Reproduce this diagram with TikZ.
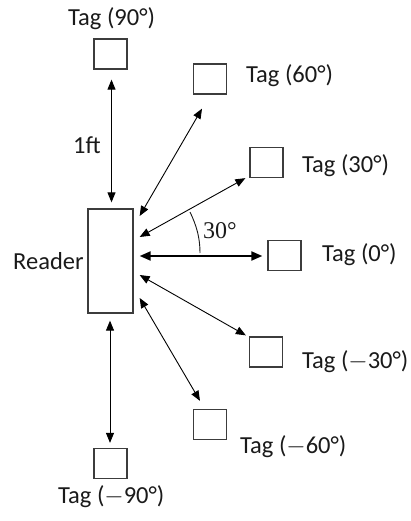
\documentclass[tikz,border=0pt]{standalone}
\usepackage{fontspec}
\setmainfont{Carlito}
\newfontfamily\serifnum{Liberation Serif}
\usetikzlibrary{arrows.meta,calc}
\definecolor{boxgray}{HTML}{3C3C3C}
\definecolor{txt}{HTML}{1A1A1A}
\newcommand{\mymin}{\ensuremath{-}}
\tikzset{
  tagbox/.style={draw=boxgray,line width=1.3pt,minimum width=33pt,minimum height=30pt,inner sep=0pt},
  readerbox/.style={draw=boxgray,line width=1.3pt,minimum width=45pt,minimum height=104pt,inner sep=0pt},
  lbl/.style={anchor=base west,inner sep=0pt,text=txt,font=\fontsize{24.5}{28}\selectfont},
  thinarr/.style={line width=0.9pt,{Triangle[length=10pt,width=8pt]}-{Triangle[length=10pt,width=8pt]}},
  thickarr/.style={line width=2pt,{Triangle[length=11pt,width=9pt]}-{Triangle[length=11pt,width=9pt]}},
}
\begin{document}
\begin{tikzpicture}[x=1pt,y=-1pt]
\useasboundingbox (0,0) rectangle (410,521);
% boxes
\node[readerbox] (reader) at (110.5,261) {};
\node[tagbox] (t90) at (110.5,54) {};
\node[tagbox] (t60) at (210,79) {};
\node[tagbox] (t30) at (266.5,162.5) {};
\node[tagbox] (t0) at (284.5,255.5) {};
\node[tagbox] (tm30) at (266,352) {};
\node[tagbox] (tm60) at (210,424.5) {};
\node[tagbox] (tm90) at (110.5,463.5) {};
% labels
\node[lbl] (l90) at (68,26) {Tag (90°)};
\node[lbl] (l60) at (246,83) {Tag (60°)};
\node[lbl] (l30) at (302,173) {Tag (30°)};
\node[lbl] (l0) at (322,261) {Tag (0°)};
\node[lbl] (lm30) at (302,368) {Tag (\mymin30°)};
\node[lbl] (lm60) at (240,453) {Tag (\mymin60°)};
\node[lbl] (lm90) at (58,503) {Tag (\mymin90°)};
\node[lbl] (lreader) at (13,269) {Reader};
\node[lbl] (lft) at (73,154) {1ft};
\node[lbl,font=\serifnum\fontsize{24}{28}\selectfont] (lang) at (203,238) {30°};
% arrows
\draw[thinarr] ($(t90.south)+(1,10)$) -- ($(reader.north)+(1,-6)$);
\draw[thinarr] ($(t60.south)+(-8,14)$) -- ($(reader.east)+(6,-45)$);
\draw[thinarr] ($(t30.south west)+(-4,0)$) -- ($(reader.east)+(6,-24)$);
\draw[thickarr] ($(reader.east)+(6,-5)$) -- ($(t0.west)+(-5,0.5)$);
\draw[thinarr] ($(reader.east)+(6,14)$) -- ($(tm30.north west)+(-3,-1)$);
\draw[thinarr] ($(reader.east)+(6,37)$) -- ($(tm60.north)+(-10,-8)$);
\draw[thinarr] ($(reader.south)+(-0.5,7)$) -- ($(tm90.north)+(-0.5,-5)$);
% angle arc
\coordinate (arcA) at (200,253);
\coordinate (arcB) at (190,212);
\draw[line width=0.9pt,txt] (arcA) .. controls (200,237.7) and (196.6,225.8) .. (arcB);
\end{tikzpicture}
\end{document}
